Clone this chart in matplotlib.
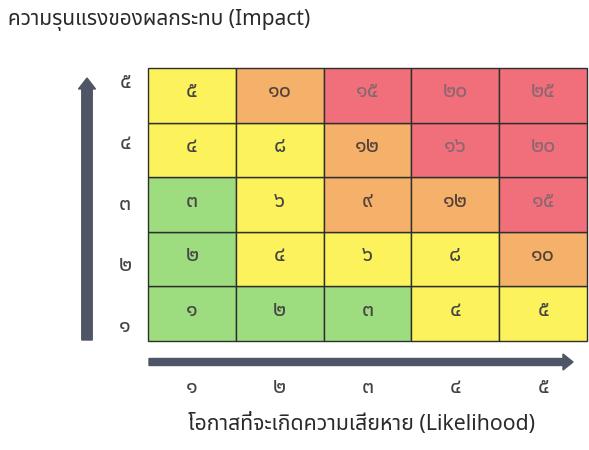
import matplotlib
matplotlib.use("Agg")
import matplotlib.pyplot as plt
from matplotlib.patches import Rectangle, FancyArrow

FONT = ['Noto Sans Thai', 'DejaVu Sans']
plt.rcParams['font.family'] = FONT

# ---- data ----
likelihood_labels = ['๑', '๒', '๓', '๔', '๕']
impact_labels = ['๑', '๒', '๓', '๔', '๕']
likelihood = [1, 2, 3, 4, 5]
impact = [1, 2, 3, 4, 5]
# score labels, rows = impact 1..5 (bottom to top), cols = likelihood 1..5
scores = [
    ['๑', '๒', '๓', '๔', '๕'],
    ['๒', '๔', '๖', '๘', '๑๐'],
    ['๓', '๖', '๙', '๑๒', '๑๕'],
    ['๔', '๘', '๑๒', '๑๖', '๒๐'],
    ['๕', '๑๐', '๑๕', '๒๐', '๒๕'],
]
# risk level per cell: G=low, Y=medium, O=high, R=very high
levels = [
    ['G', 'G', 'G', 'Y', 'Y'],
    ['G', 'Y', 'Y', 'Y', 'O'],
    ['G', 'Y', 'O', 'O', 'R'],
    ['Y', 'Y', 'O', 'R', 'R'],
    ['Y', 'O', 'R', 'R', 'R'],
]
title = 'ความรุนแรงของผลกระทบ (Impact)'
xlabel = 'โอกาสที่จะเกิดความเสียหาย (Likelihood)'

fill = {'G': '#9edc80', 'Y': '#fbf25c', 'O': '#f5b06a', 'R': '#f16f7a'}
tcol = {'G': '#444444', 'Y': '#444444', 'O': '#54423a', 'R': '#8a6670'}
arrow_col = '#4d5566'
W, H = 589, 450

fig = plt.figure(figsize=(W / 100, H / 100), dpi=100)
ax = fig.add_axes([148 / W, 1 - 341 / H, (587 - 148) / W, (341 - 68) / H])
ax.set_xlim(0.5, 5.5)
ax.set_ylim(0.5, 5.5)
ax.axis('off')

for i, imp in enumerate(impact):
    for j, lik in enumerate(likelihood):
        lv = levels[i][j]
        ax.add_patch(Rectangle((lik - 0.5, imp - 0.5), 1, 1, facecolor=fill[lv],
                               edgecolor='#2e2e2e', linewidth=1.0, clip_on=False))
        ax.text(lik, imp - 0.04, scores[i][j], ha='center', va='baseline',
                fontsize=15.5, color=tcol[lv])

# y labels (impact)
for k, lab in zip(impact, impact_labels):
    ax.text(0.24, 0.665 + (k - 1) * 1.117, lab, ha='center', va='baseline',
            fontsize=15.5, color='#444444', clip_on=False)
# x labels (likelihood)
for k, lab in zip(likelihood, likelihood_labels):
    ax.text(k, -0.452, lab, ha='center', va='baseline', fontsize=15.5,
            color='#444444', clip_on=False)

up = FancyArrow(87 / W, 1 - 340 / H, 0, (340 - 78) / H, width=8 / H,
                head_width=17 / W, head_length=11 / H, length_includes_head=True,
                color=arrow_col, transform=fig.transFigure)
fig.patches.append(up)
right = FancyArrow(149 / W, 1 - 362 / H, (573 - 149) / W, 0, width=7 / H,
                   head_width=16 / H, head_length=10 / W, length_includes_head=True,
                   color=arrow_col, transform=fig.transFigure)
fig.patches.append(right)

fig.text(8 / W, 1 - 25 / H, title, ha='left', va='baseline', fontsize=15, color='#2a2a2a')
fig.text(362 / W, 1 - 430 / H, xlabel, ha='center', va='baseline', fontsize=15.3, color='#2a2a2a')

fig.savefig('out.png', dpi=100)
